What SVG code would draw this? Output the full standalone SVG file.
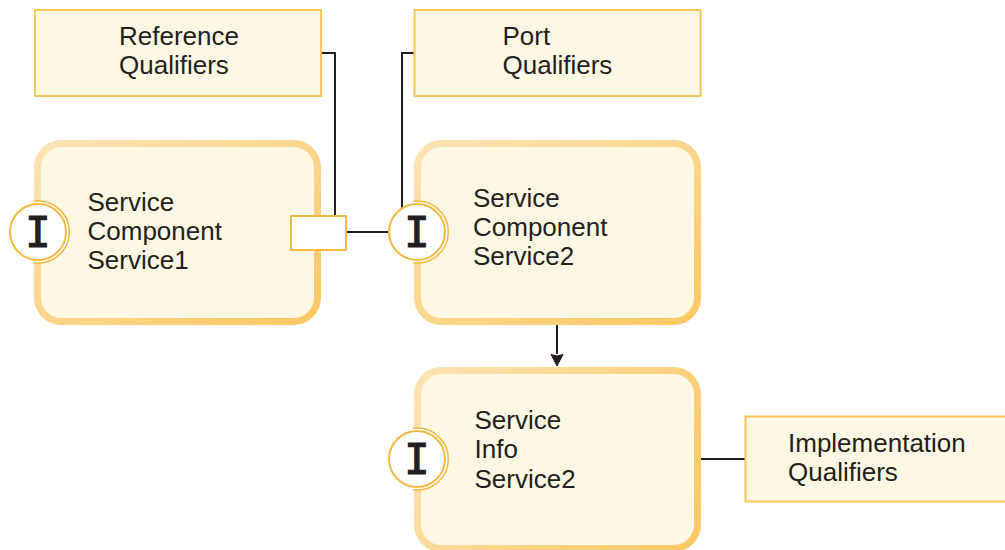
<svg xmlns="http://www.w3.org/2000/svg" width="1005" height="550" viewBox="0 0 1005 550">
<style>
text{font-family:"Liberation Sans",Arial,sans-serif;font-size:26px;fill:#231f20}
.note{fill:#fdf8e3;stroke:#f8c558;stroke-width:2}
.box{fill:#fdf8e3;stroke-width:7}
.ring{fill:#fff;stroke:#f5b942;stroke-width:1.5}
.disc{fill:#fff;stroke:#f5b942;stroke-width:2}
.gl{font-family:"DejaVu Sans Mono",monospace;font-size:42px;text-anchor:middle;stroke:#231f20;stroke-width:1.2}
.line{fill:none;stroke:#231f20;stroke-width:2}
</style>
<defs>
<linearGradient id="g" x1="0" y1="0" x2="1" y2="1"><stop offset="0" stop-color="#fbe3b5"/><stop offset="1" stop-color="#fbc862"/></linearGradient>
<linearGradient id="g3" gradientUnits="userSpaceOnUse" x1="414" y1="367" x2="701" y2="552"><stop offset="0" stop-color="#fbe3b5"/><stop offset="1" stop-color="#fbc862"/></linearGradient>
</defs>
<g id="connectors">
<path class="line" d="M321 53H335V216"/>
<path class="line" d="M414 53H402V208"/>
<path class="line" d="M346 232H390"/>
<path class="line" d="M701 459H745"/>
<path d="M557 325V354" class="line"/>
<path d="M551 354.500L557 366L563 354.500L557 356Z" fill="#231f20" stroke="#231f20"/>
</g>
<g id="reference-qualifiers"><rect class="note" x="35" y="10" width="286" height="86"/><text x="119" y="45">Reference</text><text x="119" y="74">Qualifiers</text></g>
<g id="port-qualifiers"><rect class="note" x="414.500" y="10" width="286" height="86"/><text x="502.500" y="45">Port</text><text x="502.500" y="74">Qualifiers</text></g>
<g id="implementation-qualifiers"><rect class="note" x="745.500" y="416.500" width="270" height="85"/><text x="788" y="452">Implementation</text><text x="788" y="481">Qualifiers</text></g>
<g id="service1">
<rect class="box" stroke="url(#g)" x="37.500" y="143.500" width="280" height="178" rx="24"/>
<path class="ring" d="M34 201.300A31 31 0 1 1 34 262.700"/><circle class="disc" cx="38" cy="232" r="28"/>
<text class="gl" x="38" y="247">I</text>
<text x="87.500" y="211">Service</text><text x="87.500" y="240">Component</text><text x="87.500" y="269">Service1</text>
</g>
<g id="service2">
<rect class="box" stroke="url(#g)" x="417.500" y="143.500" width="280" height="178" rx="24"/>
<path class="ring" d="M413 201.300A31 31 0 1 1 413 262.700"/><circle class="disc" cx="417" cy="232" r="28"/>
<text class="gl" x="417" y="247">I</text>
<text x="473" y="207">Service</text><text x="473" y="236">Component</text><text x="473" y="265">Service2</text>
</g>
<g id="info-service2">
<rect class="box" stroke="url(#g3)" x="417.500" y="370.500" width="280" height="178" rx="24"/>
<path class="ring" d="M413 428.300A31 31 0 1 1 413 489.700"/><circle class="disc" cx="417" cy="459" r="28"/>
<text class="gl" x="417" y="474">I</text>
<text x="474.500" y="429">Service</text><text x="474.500" y="458">Info</text><text x="474.500" y="488">Service2</text>
</g>
<g id="port"><rect x="291" y="216" width="55" height="34" fill="#fff" stroke="#f5b942" stroke-width="2"/></g>
</svg>
